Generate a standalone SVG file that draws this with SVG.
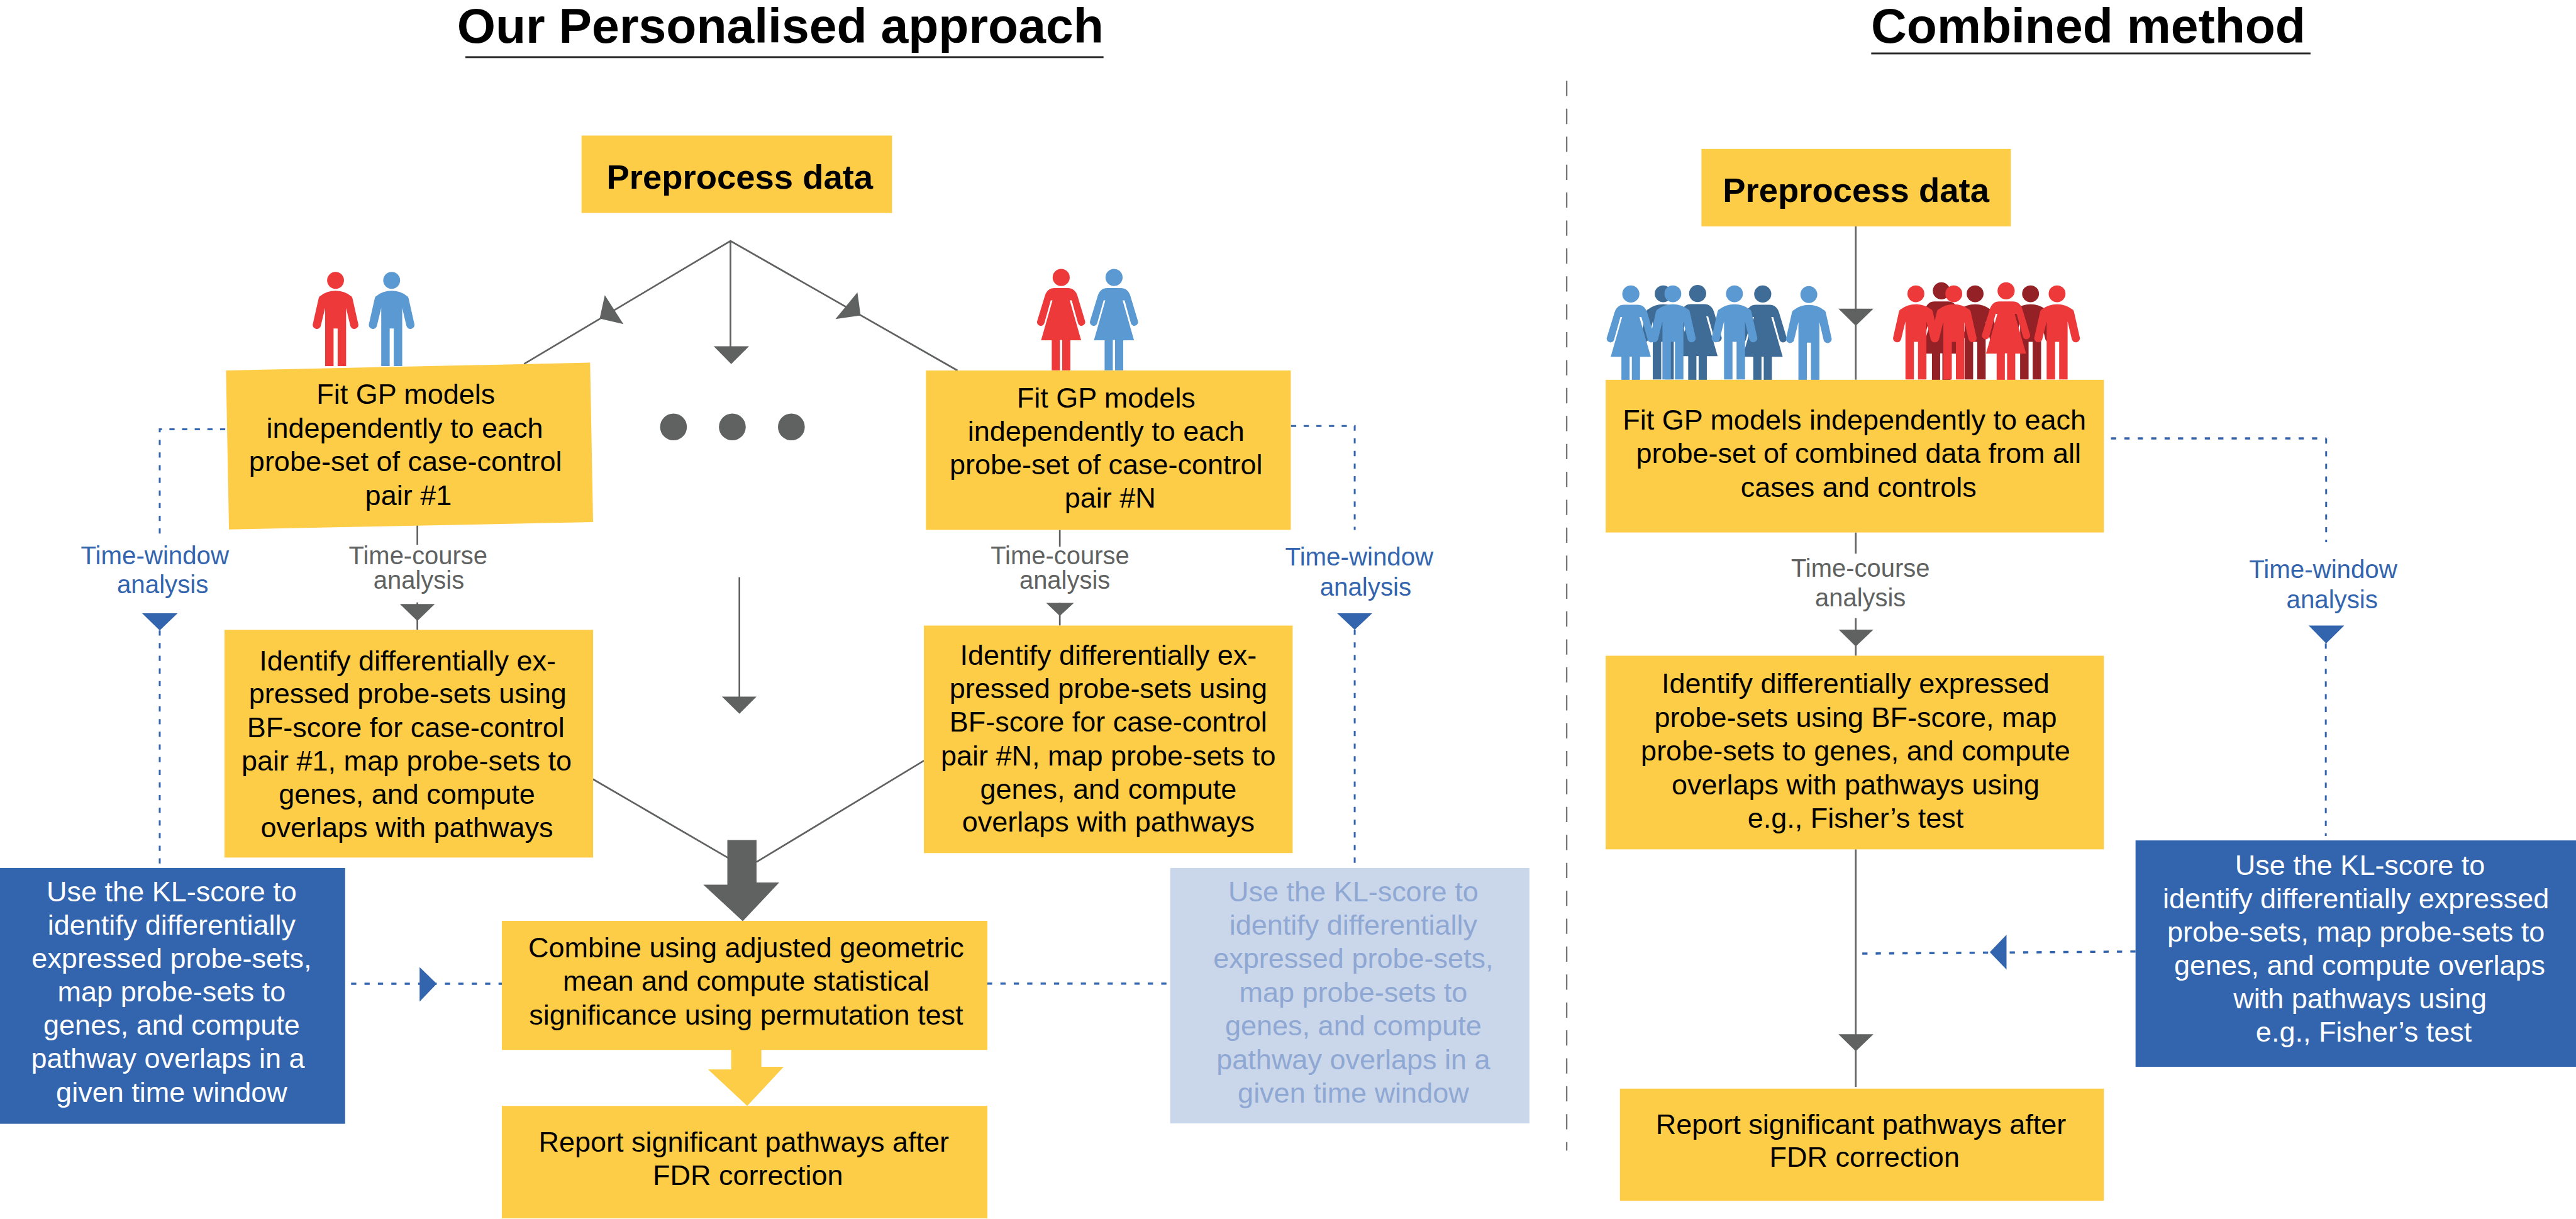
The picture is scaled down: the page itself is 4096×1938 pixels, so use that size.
<svg xmlns="http://www.w3.org/2000/svg" xmlns:xlink="http://www.w3.org/1999/xlink" width="4096" height="1938" viewBox="0 0 4096 1938">
<style>
text{font-family:"Liberation Sans",Arial,sans-serif;text-anchor:middle}
.y{fill:#fecd47}
.b{fill:#3364ae}
.lb{fill:#cad6ea}
.t{font-size:76px;fill:#000}
.w{font-size:76px;fill:#fff}
.f{font-size:76px;fill:#8fa8d3}
.h{font-size:92px;font-weight:700;fill:#000}
.ti{font-size:133px;font-weight:700;fill:#000}
.tc{font-size:67.5px;fill:#606261}
.tw{font-size:68px;fill:#3364ae}
.ln{stroke:#606261;stroke-width:4.5;fill:none}
.ds{stroke:#3364ae;stroke-width:5;fill:none;stroke-dasharray:14 20}
.dh{stroke:#3364ae;stroke-width:6;fill:none;stroke-dasharray:14 22}
.ah{fill:#606261}
.ab{fill:#3364ae}
.ul{fill:#2a2a2a}
.r{fill:#ee393b}.s{fill:#5a99d2}.dr{fill:#942126}.ds2{fill:#3e6c96}
</style>
<defs>
<g id="man"><circle cx="0" cy="-690" r="68"/><path d="M-84 0H-16V-303H17V0H85V-468L119-324A33 33 0 0 0 184-334L136-547Q132-562 120-566Q70-606 0-606Q-70-606-120-566Q-132-562-136-547L-184-334A33 33 0 0 0-119-324L-84-468Z"/></g>
<g id="woman"><circle cx="0" cy="-749" r="69"/><path d="M161-243H74V0H8V-245H-10V0H-76V-243H-162L-70-564H-84L-136-379A29 29 0 0 1-193-399L-132-599Q-112-663-56-663H54Q112-663 132-599L192-399A29 29 0 0 1 136-379L85-564H69Z"/></g>
</defs>
<g transform="scale(0.59199)">
<rect x="0" y="0" width="6919" height="3273" fill="#fff"/>

<g id="titles">
<text class="ti" x="2096" y="115">Our Personalised approach</text>
<rect class="ul" x="1250" y="151" width="1714" height="5"/>
<text class="ti" x="5609" y="115">Combined method</text>
<rect class="ul" x="5026" y="141" width="1180" height="5"/>
</g>

<g id="divider"><path d="M4208 217V3090" stroke="#777" stroke-width="4" fill="none" stroke-dasharray="41 34"/></g>

<g id="people">
<use xlink:href="#man" href="#man" class="r" transform="translate(901.3 983) scale(.3333)"/>
<use xlink:href="#man" href="#man" class="s" transform="translate(1052 983) scale(.3333)"/>
<use xlink:href="#woman" href="#woman" class="r" transform="translate(2850.3 994.7) scale(.3333)"/>
<use xlink:href="#woman" href="#woman" class="s" transform="translate(2992.3 994.7) scale(.3333)"/>
<use xlink:href="#man" href="#man" class="ds2" transform="translate(4467.3 1019) scale(.3333)"/>
<use xlink:href="#woman" href="#woman" class="ds2" transform="translate(4559.8 1037.7) scale(.3333)"/>
<use xlink:href="#woman" href="#woman" class="ds2" transform="translate(4734.6 1039.3) scale(.3333)"/>
<use xlink:href="#woman" href="#woman" class="s" transform="translate(4380.4 1039.3) scale(.3333)"/>
<use xlink:href="#man" href="#man" class="s" transform="translate(4493.2 1019) scale(.3333)"/>
<use xlink:href="#man" href="#man" class="s" transform="translate(4658.7 1019) scale(.3333)"/>
<use xlink:href="#man" href="#man" class="s" transform="translate(4858.5 1021) scale(.3333)"/>
<use xlink:href="#woman" href="#woman" class="dr" transform="translate(5214.5 1030.7) scale(.3333)"/>
<use xlink:href="#man" href="#man" class="dr" transform="translate(5305.1 1019) scale(.3333)"/>
<use xlink:href="#man" href="#man" class="dr" transform="translate(5454 1019) scale(.3333)"/>
<use xlink:href="#man" href="#man" class="r" transform="translate(5146 1019) scale(.3333)"/>
<use xlink:href="#man" href="#man" class="r" transform="translate(5247.8 1019) scale(.3333)"/>
<use xlink:href="#woman" href="#woman" class="r" transform="translate(5388.3 1030.7) scale(.3333)"/>
<use xlink:href="#man" href="#man" class="r" transform="translate(5525.2 1019) scale(.3333)"/>
</g>

<g id="connectors">
<path class="ln" d="M1407.5 977.5L1962 647L2571.7 995M1962 647V932"/>
<polygon class="ah" points="1624.5,792.5 1674.5,870.5 1610.7,855.5"/>
<polygon class="ah" points="2303,785 2311.6,847 2244,857"/>
<polygon class="ah" points="1917,930 2012,930 1964,977.5"/>
<path class="ln" d="M1986 1550V1875"/>
<polygon class="ah" points="1939,1871 2032,1871 1986,1917"/>
<path class="ln" d="M1121 1405V1463M1121 1618V1691.5"/>
<polygon class="ah" points="1074,1622 1168,1622 1121,1667.6"/>
<path class="ln" d="M2846.6 1423V1468M2846.6 1619V1680"/>
<polygon class="ah" points="2810,1619 2884.5,1619 2846.6,1654"/>
<path class="ln" d="M1592.6 2092.5L1955 2303.5M2481.5 2043L2032 2315"/>
<polygon class="ah" points="1953.6,2256 2032,2256 2032,2370 2093,2370 1995,2474 1889,2376 1953.6,2376"/>
<polygon class="y" points="1964,2819 2045,2819 2045,2865 2105,2865 2007,2970 1902,2872 1964,2872"/>
<path class="ln" d="M4984.5 608V1020M4984.5 1430V1487M4984.5 1660V1761M4984.5 2281V2919"/>
<polygon class="ah" points="4938,829 5032,829 4984.5,875"/>
<polygon class="ah" points="4938.7,1691 5032,1691 4984.5,1736"/>
<polygon class="ah" points="4938,2777.5 5032,2777.5 4984.5,2823"/>
<path class="ds" d="M605 1153H429V1445M429 1693V2331"/>
<polygon class="ab" points="381.6,1647 477,1647 429,1693"/>
<path class="ds" d="M3467.6 1144H3638.7V1423M3638.7 1691V2328"/>
<polygon class="ab" points="3591.6,1647 3685.7,1647 3638.7,1691.5"/>
<path class="dh" d="M943 2642H1354M2651 2641.4H3135"/>
<polygon class="ab" points="1127,2597 1173,2642 1127,2690"/>
<path class="dh" d="M5670 1177.5H6248"/>
<path class="ds" d="M6248 1177.5V1456M6247 1728V2245"/>
<polygon class="ab" points="6201,1680 6296.5,1680 6248,1728"/>
<path class="dh" d="M5736 2555.4L4990 2561"/>
<polygon class="ab" points="5389.5,2510 5344.5,2557 5389.5,2604"/>
</g>

<g id="dots" class="ah"><circle cx="1809" cy="1146.6" r="36"/><circle cx="1967" cy="1146.6" r="36"/><circle cx="2125.6" cy="1146.6" r="36"/></g>

<g id="preprocess-left"><rect class="y" x="1562" y="364" width="834" height="208"/><text class="h" x="1987" y="507">Preprocess data</text></g>
<g id="fit-1"><polygon class="y" points="607,995 1585,974 1593,1402 615,1422"/><text class="t"><tspan x="1090" y="1084">Fit GP models</tspan><tspan x="1087" y="1175">independently to each</tspan><tspan x="1089" y="1266">probe-set of case-control</tspan><tspan x="1097" y="1356">pair #1</tspan></text></g>
<g id="fit-n"><rect class="y" x="2487" y="995" width="980" height="428"/><text class="t"><tspan x="2971" y="1094">Fit GP models</tspan><tspan x="2971" y="1184.5">independently to each</tspan><tspan x="2971" y="1274">probe-set of case-control</tspan><tspan x="2982" y="1364">pair #N</tspan></text></g>
<g id="label-tw-1"><text class="tw"><tspan x="416" y="1514.5">Time-window</tspan><tspan x="437" y="1593">analysis</tspan></text></g>
<g id="label-tc-1"><text class="tc"><tspan x="1123" y="1514.5">Time-course</tspan><tspan x="1125" y="1581">analysis</tspan></text></g>
<g id="label-tc-n"><text class="tc"><tspan x="2847" y="1514.5">Time-course</tspan><tspan x="2860" y="1581">analysis</tspan></text></g>
<g id="label-tw-n"><text class="tw"><tspan x="3651" y="1519">Time-window</tspan><tspan x="3668" y="1599">analysis</tspan></text></g>
<g id="identify-1"><rect class="y" x="603" y="1691.5" width="990" height="611.5"/><text class="t"><tspan x="1095" y="1800">Identify differentially ex-</tspan><tspan x="1095" y="1889">pressed probe-sets using</tspan><tspan x="1090" y="1979">BF-score for case-control</tspan><tspan x="1092" y="2069">pair #1, map probe-sets to</tspan><tspan x="1093" y="2159">genes, and compute</tspan><tspan x="1093" y="2249">overlaps with pathways</tspan></text></g>
<g id="identify-n"><rect class="y" x="2481.5" y="1680" width="990.5" height="611"/><text class="t"><tspan x="2977" y="1785.6">Identify differentially ex-</tspan><tspan x="2977" y="1875">pressed probe-sets using</tspan><tspan x="2977" y="1965">BF-score for case-control</tspan><tspan x="2977" y="2055">pair #N, map probe-sets to</tspan><tspan x="2977" y="2145">genes, and compute</tspan><tspan x="2977" y="2234">overlaps with pathways</tspan></text></g>
<g id="kl-left"><rect class="b" x="0" y="2331" width="927" height="687"/><text class="w"><tspan x="461" y="2420">Use the KL-score to</tspan><tspan x="461" y="2510">identify differentially</tspan><tspan x="461" y="2600">expressed probe-sets,</tspan><tspan x="461" y="2690">map probe-sets to</tspan><tspan x="461" y="2779">genes, and compute</tspan><tspan x="451" y="2869">pathway overlaps in a</tspan><tspan x="461" y="2959">given time window</tspan></text></g>
<g id="kl-right"><rect class="lb" x="3143" y="2331" width="965" height="686"/><text class="f"><tspan x="3635" y="2420">Use the KL-score to</tspan><tspan x="3635" y="2510">identify differentially</tspan><tspan x="3635" y="2600">expressed probe-sets,</tspan><tspan x="3635" y="2691">map probe-sets to</tspan><tspan x="3635" y="2780">genes, and compute</tspan><tspan x="3635" y="2871">pathway overlaps in a</tspan><tspan x="3635" y="2961">given time window</tspan></text></g>
<g id="combine"><rect class="y" x="1348" y="2473" width="1304" height="346.6"/><text class="t"><tspan x="2004" y="2571">Combine using adjusted geometric</tspan><tspan x="2004" y="2661">mean and compute statistical</tspan><tspan x="2004" y="2751">significance using permutation test</tspan></text></g>
<g id="report-left"><rect class="y" x="1348" y="2970" width="1304" height="302"/><text class="t"><tspan x="1998" y="3093">Report significant pathways after</tspan><tspan x="2009" y="3183">FDR correction</tspan></text></g>

<g id="preprocess-right"><rect class="y" x="4570" y="400" width="831" height="208"/><text class="h" x="4985" y="543">Preprocess data</text></g>
<g id="fit-combined"><rect class="y" x="4312.7" y="1020" width="1338.3" height="410"/><text class="t"><tspan x="4981" y="1153">Fit GP models independently to each</tspan><tspan x="4992" y="1244">probe-set of combined data from all</tspan><tspan x="4992" y="1334">cases and controls</tspan></text></g>
<g id="label-tc-c"><text class="tc"><tspan x="4997" y="1549">Time-course</tspan><tspan x="4997" y="1628.5">analysis</tspan></text></g>
<g id="label-tw-c"><text class="tw"><tspan x="6240" y="1552">Time-window</tspan><tspan x="6264" y="1632.7">analysis</tspan></text></g>
<g id="identify-combined"><rect class="y" x="4312.7" y="1761" width="1338.3" height="520"/><text class="t"><tspan x="4984" y="1862">Identify differentially expressed</tspan><tspan x="4984" y="1952">probe-sets using BF-score, map</tspan><tspan x="4984" y="2041.5">probe-sets to genes, and compute</tspan><tspan x="4984" y="2133">overlaps with pathways using</tspan><tspan x="4984" y="2223">e.g., Fisher’s test</tspan></text></g>
<g id="kl-combined"><rect class="b" x="5736" y="2257" width="1183" height="608"/><text class="w"><tspan x="6339" y="2349">Use the KL-score to</tspan><tspan x="6328" y="2439">identify differentially expressed</tspan><tspan x="6328" y="2528">probe-sets, map probe-sets to</tspan><tspan x="6338" y="2618.5">genes, and compute overlaps</tspan><tspan x="6339" y="2708">with pathways using</tspan><tspan x="6349" y="2797.5">e.g., Fisher’s test</tspan></text></g>
<g id="report-combined"><rect class="y" x="4351" y="2923.6" width="1300" height="301"/><text class="t"><tspan x="4998.5" y="3045">Report significant pathways after</tspan><tspan x="5008" y="3133.5">FDR correction</tspan></text></g>
</g>
</svg>
